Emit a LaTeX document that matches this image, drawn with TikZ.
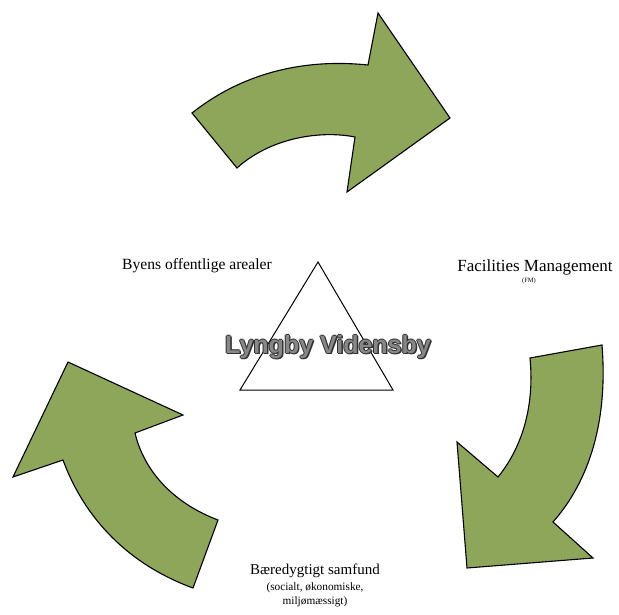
\documentclass[tikz,border=0pt]{standalone}
\usepackage{fontspec}
\setmainfont{Liberation Serif}
\newfontfamily\boldsans{Liberation Sans}
\definecolor{arrowgreen}{RGB}{142,166,90}
\definecolor{titlegray}{RGB}{135,135,135}
\definecolor{titleedge}{RGB}{50,50,50}
\begin{document}
\begin{tikzpicture}[x=1pt,y=-1pt,
  bigarrow/.style={fill=arrowgreen,draw=black,line width=1.1pt,line join=miter},
  tri/.style={draw=black,line width=1pt},
  lbl/.style={inner sep=0pt,align=center},
  sublbl/.style={font=\fontsize{11.3}{14}\selectfont,inner sep=0pt,align=center},
  tiny/.style={font=\fontsize{6.5}{7}\selectfont,inner sep=0pt},
  titleback/.style={font=\boldsans\bfseries\fontsize{25}{28}\selectfont,text=titleedge,inner sep=0pt},
  titlefront/.style={font=\boldsans\bfseries\fontsize{25}{28}\selectfont,text=titlegray,inner sep=0pt}]
\useasboundingbox[fill=white] (0,0) rectangle (619,615);
% top arrow
\draw[bigarrow] (192,113) .. controls (240,75) and (300,58) .. (368,65)
  -- (378,13) -- (450,118) -- (347,192) -- (355,137)
  .. controls (320,130) and (270,138) .. (237,168) -- cycle;
% right arrow
\draw[bigarrow] (530,358) -- (602,345) .. controls (608,420) and (590,480) .. (553,522)
  -- (593,558) -- (467,568) -- (457,442) -- (498,477)
  .. controls (520,450) and (535,410) .. (530,358) -- cycle;
% left arrow
\draw[bigarrow] (68,362) -- (183,415) -- (135,433)
  .. controls (145,475) and (178,505) .. (218,520) -- (193,588)
  .. controls (130,565) and (85,520) .. (63,460) -- (13,477) -- cycle;
% triangle
\draw[tri] (318,262) -- (393,390) -- (240,390) -- cycle;
% title with outline
\foreach \dx/\dy in {-1/0,1/0,0/-1,0/1,1.5/1.5}
  \node[titleback] at (328+\dx,347+\dy) {Lyngby Vidensby};
\node[titlefront] (title) at (328,347) {Lyngby Vidensby};
% labels
\node[lbl,font=\fontsize{15.6}{18}\selectfont] (byens) at (197,266) {Byens offentlige arealer};
\node[lbl,font=\fontsize{17}{19}\selectfont] (fm) at (535,267) {Facilities Management};
\node[tiny] (fmabbr) at (529,281) {(FM)};
\node[lbl,font=\fontsize{15}{18}\selectfont] (samfund) at (315,571) {Bæredygtigt samfund};
\node[sublbl] (samfundsub) at (315,595) {(socialt, økonomiske,\\miljømæssigt)};
\end{tikzpicture}
\end{document}
